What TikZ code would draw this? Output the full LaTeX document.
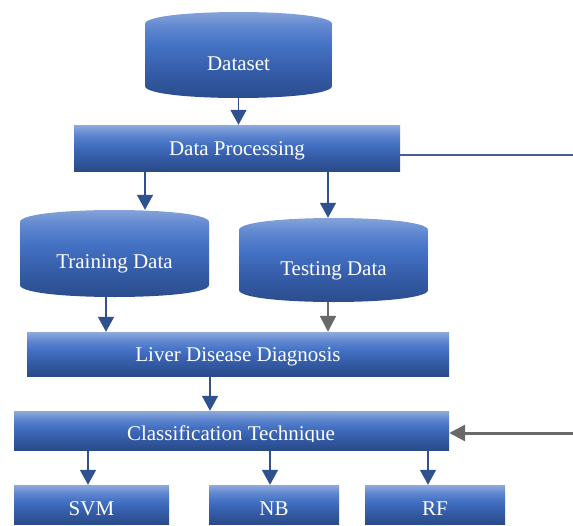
\documentclass[tikz,border=0pt]{standalone}
\usepackage{fontspec}
\setmainfont{Liberation Serif}
\usetikzlibrary{arrows.meta}

\definecolor{shadeTop}{RGB}{143,170,220}
\definecolor{shadeUpper}{RGB}{96,135,208}
\definecolor{shadeMid}{RGB}{68,114,196}
\definecolor{shadeLower}{RGB}{52,91,166}
\definecolor{shadeBot}{RGB}{41,75,136}
\definecolor{linkBlue}{RGB}{47,82,143}
\definecolor{linkGrey}{RGB}{105,105,105}
\definecolor{feedLine}{RGB}{70,95,140}

% light-to-dark blue fill used by every box and drum
\pgfdeclareverticalshading{bluefill}{100bp}{
  color(0bp)=(shadeBot); color(25bp)=(shadeBot); color(40bp)=(shadeLower);
  color(55bp)=(shadeMid); color(65bp)=(shadeUpper); color(75bp)=(shadeTop);
  color(100bp)=(shadeTop)}

\tikzset{
  blueshade/.style={shading=bluefill},
  labeltext/.style={text=white, font=\fontsize{21}{25}\selectfont},
  stepbox/.style={rectangle, blueshade, labeltext, inner sep=0pt,
    text height=14pt, text depth=0pt},
  leafbox/.style={stepbox, text height=22pt},
  % database drum: vertical sides, bulging top and bottom arcs
  drum/.style={rectangle, inner sep=0pt, labeltext, text height=30pt, text depth=0pt,
    path picture={
      \shade[blueshade]
        ([yshift=-12pt]path picture bounding box.north west)
        .. controls ([yshift=4pt]path picture bounding box.north west)
           and ([yshift=4pt]path picture bounding box.north east)
        .. ([yshift=-12pt]path picture bounding box.north east)
        -- ([yshift=12pt]path picture bounding box.south east)
        .. controls ([yshift=-4pt]path picture bounding box.south east)
           and ([yshift=-4pt]path picture bounding box.south west)
        .. ([yshift=12pt]path picture bounding box.south west)
        -- cycle;
    }},
  link/.style={draw=linkBlue, line width=1.6pt, -{Triangle[length=15pt,width=16pt]}},
  greylink/.style={draw=linkGrey, line width=2.4pt, -{Triangle[length=16pt,width=16pt]}},
  feed/.style={draw=feedLine, line width=1.5pt},
}

\begin{document}
\begin{tikzpicture}[x=1pt, y=-1pt]
\useasboundingbox (0,0) rectangle (573,525);

% data sources
\node[drum, minimum width=187pt, minimum height=86pt] (ds) at (238.5,55) {Dataset};
\node[stepbox, minimum width=326pt, minimum height=46pt] (dp) at (237,148) {Data Processing};
\node[drum, minimum width=189pt, minimum height=87pt] (tr) at (114.5,253.5) {Training Data};
\node[drum, minimum width=189pt, minimum height=84pt] (te) at (333.5,260) {Testing Data};

% diagnosis and classification
\node[stepbox, minimum width=422pt, minimum height=44pt] (ld) at (238,354) {Liver Disease Diagnosis};
\node[stepbox, minimum width=435pt, minimum height=39pt] (ct) at (231.5,430.5) {};
\begin{scope}
  \clip (ct.north west) rectangle ([yshift=8.5pt]ct.south east);
  \node[labeltext, anchor=base, inner sep=0pt] (ctlabel) at (231,440) {Classification Technique};
\end{scope}

% classifiers
\node[leafbox, minimum width=155pt, minimum height=39pt] (svm) at (91.5,504.5) {SVM};
\node[leafbox, minimum width=130pt, minimum height=39pt] (nb) at (274,504.5) {NB};
\node[leafbox, minimum width=140pt, minimum height=39pt] (rf) at (435,504.5) {RF};

% connectors
\draw[link] (ds.south) -- (ds.south |- dp.north);
\draw[link] ([xshift=30.5pt]tr.north |- dp.south) -- ([xshift=30.5pt]tr.north);
\draw[link] ([xshift=-5.5pt]te.north |- dp.south) -- ([xshift=-5.5pt]te.north);
\draw[link] ([xshift=-8.5pt]tr.south) -- ([xshift=-8.5pt]tr.south |- ld.north);
\draw[greylink] ([xshift=-5.5pt]te.south) -- ([xshift=-5.5pt]te.south |- ld.north);
\draw[link] ([xshift=-28pt]ld.south) -- ([xshift=-28pt]ld.south |- ct.north);
\draw[link] ([xshift=-3.5pt]svm.north |- ct.south) -- ([xshift=-3.5pt]svm.north);
\draw[link] ([xshift=-4pt]nb.north |- ct.south) -- ([xshift=-4pt]nb.north);
\draw[link] ([xshift=-7pt]rf.north |- ct.south) -- ([xshift=-7pt]rf.north);

% side lines at the right edge
\coordinate (feedOut) at (573,155);
\coordinate (feedIn) at (573,433);
\draw[feed] (feedOut -| dp.east) -- (feedOut);
\draw[greylink, line width=3pt] (feedIn) -- (feedIn -| ct.east);
\end{tikzpicture}
\end{document}
